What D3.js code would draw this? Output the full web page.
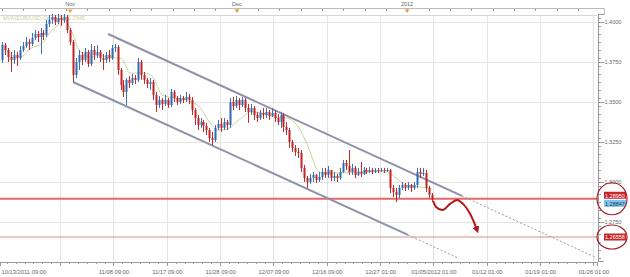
<!DOCTYPE html>
<html>
<head>
<meta charset="utf-8">
<script src="https://cdn.jsdelivr.net/npm/d3@7"></script>
<style>
  body { margin: 0; background: #fff; }
  svg { display: block; font-family: "Liberation Sans", Arial, sans-serif; }
  .grid line { stroke: #e4e4e4; shape-rendering: crispEdges; }
  .grid .domain { display: none; }
  .axis text { fill: #666; }
  .axis line, .axis path { stroke: #999; shape-rendering: crispEdges; }
</style>
</head>
<body>
<div id="chart"></div>
<script>
// EUR/USD candles (open of each bar = previous close)
const open0 = 1.3763;
const closes = [
  1.3856,1.3825,1.3781,1.3763,1.3794,1.3775,1.3825,1.3850,1.3875,1.3863,
  1.3900,1.3925,1.3906,1.3931,1.3919,1.3988,1.4013,1.4031,1.4000,1.4025,
  1.4013,1.4031,1.3950,1.3875,1.3669,1.3750,1.3794,1.3763,1.3813,1.3738,
  1.3825,1.3794,1.3813,1.3775,1.3763,1.3794,1.3775,1.3838,1.3844,1.3700,
  1.3606,1.3563,1.3638,1.3619,1.3650,1.3638,1.3750,1.3669,1.3638,1.3613,
  1.3625,1.3544,1.3481,1.3513,1.3488,1.3513,1.3481,1.3563,1.3525,1.3500,
  1.3525,1.3513,1.3531,1.3513,1.3450,1.3400,1.3356,1.3375,1.3350,1.3325,
  1.3275,1.3263,1.3338,1.3363,1.3338,1.3375,1.3356,1.3500,1.3475,1.3513,
  1.3481,1.3513,1.3463,1.3438,1.3463,1.3419,1.3400,1.3431,1.3419,1.3438,
  1.3413,1.3431,1.3400,1.3375,1.3419,1.3344,1.3325,1.3250,1.3213,1.3188,
  1.3181,1.3088,1.3025,1.3000,1.3025,1.3044,1.3013,1.3031,1.3063,1.3044,
  1.3075,1.3025,1.3038,1.3025,1.3063,1.3119,1.3100,1.3063,1.3088,1.3044,
  1.3063,1.3050,1.3075,1.3063,1.3075,1.3063,1.3075,1.3069,1.3075,1.3069,
  1.3075,1.2963,1.2938,1.2919,1.2963,1.2981,1.2963,1.2981,1.2963,1.2981,
  1.3063,1.3050,1.3056,1.2963,1.2919,1.2888
];
const highs = [
  1.3875,1.3869,1.3838,1.3813,1.3825,1.3813,1.3850,1.3875,1.3906,1.3894,
  1.3931,1.3950,1.3944,1.3963,1.3950,1.4013,1.4044,1.4050,1.4044,1.4050,
  1.4044,1.4050,1.4044,1.3963,1.3888,1.3775,1.3825,1.3813,1.3838,1.3825,
  1.3863,1.3850,1.3856,1.3825,1.3800,1.3813,1.3825,1.3856,1.3863,1.3856,
  1.3713,1.3638,1.3650,1.3663,1.3675,1.3669,1.3775,1.3763,1.3688,1.3650,
  1.3650,1.3638,1.3563,1.3538,1.3525,1.3544,1.3525,1.3581,1.3575,1.3538,
  1.3544,1.3538,1.3563,1.3550,1.3531,1.3463,1.3419,1.3400,1.3388,1.3369,
  1.3338,1.3313,1.3356,1.3388,1.3400,1.3400,1.3388,1.3525,1.3531,1.3538,
  1.3525,1.3531,1.3525,1.3488,1.3488,1.3475,1.3438,1.3450,1.3463,1.3463,
  1.3450,1.3463,1.3450,1.3425,1.3438,1.3431,1.3375,1.3338,1.3263,1.3231,
  1.3213,1.3200,1.3106,1.3038,1.3050,1.3063,1.3050,1.3063,1.3088,1.3088,
  1.3100,1.3075,1.3063,1.3050,1.3088,1.3138,1.3138,1.3200,1.3113,1.3100,
  1.3088,1.3125,1.3094,1.3088,1.3094,1.3088,1.3088,1.3088,1.3088,1.3088,
  1.3088,1.3081,1.2981,1.2963,1.2981,1.3000,1.2994,1.3000,1.2988,1.3000,
  1.3088,1.3088,1.3088,1.3075,1.2975,1.2931
];
const lows = [
  1.3744,1.3794,1.3750,1.3688,1.3738,1.3725,1.3763,1.3813,1.3838,1.3825,
  1.3850,1.3888,1.3875,1.3800,1.3888,1.3906,1.3969,1.3988,1.3981,1.3988,
  1.3975,1.3994,1.3931,1.3856,1.3625,1.3650,1.3700,1.3731,1.3750,1.3719,
  1.3725,1.3763,1.3775,1.3750,1.3700,1.3744,1.3750,1.3763,1.3813,1.3669,
  1.3575,1.3531,1.3481,1.3588,1.3606,1.3613,1.3625,1.3638,1.3613,1.3588,
  1.3575,1.3513,1.3438,1.3463,1.3450,1.3475,1.3463,1.3469,1.3500,1.3481,
  1.3488,1.3494,1.3500,1.3488,1.3419,1.3356,1.3325,1.3338,1.3313,1.3294,
  1.3250,1.3231,1.3250,1.3325,1.3313,1.3325,1.3325,1.3338,1.3450,1.3463,
  1.3450,1.3469,1.3438,1.3369,1.3419,1.3388,1.3375,1.3388,1.3394,1.3400,
  1.3388,1.3406,1.3375,1.3356,1.3338,1.3313,1.3294,1.3213,1.3188,1.3163,
  1.3150,1.3063,1.3000,1.2963,1.2988,1.3000,1.2994,1.3000,1.3013,1.3025,
  1.3025,1.3006,1.3006,1.3000,1.3013,1.3056,1.3075,1.3044,1.3044,1.3025,
  1.3038,1.3031,1.3044,1.3050,1.3056,1.3050,1.3056,1.3056,1.3063,1.3056,
  1.3063,1.2931,1.2906,1.2875,1.2900,1.2950,1.2944,1.2950,1.2938,1.2950,
  1.2963,1.3025,1.3038,1.2938,1.2900,1.2875
];

// moving average line, read at a few bars
const maIdx = [6,9,14,16,19,21,24,26,30,33,36,40,42,43,48,51,52,54,58,62,67,70,73,75,80,84,88,92,96,100,102,104,106,108,114,121,130,133,137,141,145];
const maVals = [1.3763,1.3825,1.3875,1.3931,1.3981,1.4013,1.3919,1.3825,1.3781,1.3794,1.3775,1.3775,1.3719,1.3681,1.3681,1.3656,1.3619,1.3544,1.3525,1.3513,1.3463,1.3375,1.3325,1.3325,1.3388,1.3438,1.3431,1.3406,1.3400,1.3344,1.3275,1.3188,1.3088,1.3056,1.3056,1.3063,1.3063,1.3025,1.2975,1.2969,1.2956];
const maLegend = "MVA(EUR/USD-Close,20) 1.2945";

// axes
const startLabel = "10/13/2011 09:00";
const xTickIdx = [19.6,37.6,55.6,73.6,91.6,109.6,127.6,145.6,163.6,181.6,199.6];
const xTickLabels = ["","11/08 09:00","11/17 09:00","11/28 09:00","12/07 09:00","12/16 09:00","12/27 01:00","01/05/2012 01:00","01/12 01:00","01/19 01:00","01/26 01:00"];
const yTicks = [1.4,1.375,1.35,1.325,1.3,1.275];
const monthIdx = [23,79.3,136.7];
const monthLabels = ["Nov","Dec","2012"];

// annotations
const levels = [1.2895,1.2656];
const levelLabels = ["1.28950","1.26558"];
const lastLabel = "1.28847";
const lastPrice = 1.2885;
const upperChannel = [[35.8,1.3925],[155.2,1.2913],[200.1,1.2531]];
const lowerChannel = [[24,1.3625],[137,1.2669],[153.9,1.2525]];
const forecast = [[145.5,1.2881],[146.5,1.2844],[148.8,1.2825],[151.2,1.2863],[153.6,1.2888],[155.6,1.2863],[158,1.2800],[160.3,1.2700]];

const W = 630, H = 277;
const plot = {left: 0, right: 597, top: 15, bottom: 261};

const bars = closes.map((c, i) => ({
  i, open: i === 0 ? open0 : closes[i - 1], close: c, high: highs[i], low: lows[i]
}));

const x = d3.scaleLinear().domain([-0.675, 200.8]).range([plot.left, plot.right]);
const y = d3.scaleLinear().domain([1.2506, 1.405]).range([plot.bottom, plot.top - 1]);

const svg = d3.select('#chart').append('svg')
  .attr('width', W).attr('height', H);

// Grid
svg.append('g').attr('class', 'grid')
  .attr('transform', `translate(0,${plot.bottom})`)
  .call(d3.axisBottom(x).tickValues(xTickIdx).tickSize(-(plot.bottom - plot.top)).tickFormat(''));
svg.append('g').attr('class', 'grid')
  .attr('transform', `translate(${plot.right},0)`)
  .call(d3.axisLeft(y).tickValues(yTicks).tickSize(plot.right - plot.left).tickFormat(''));

// frame
svg.append('line').attr('x1', 0).attr('x2', plot.right).attr('y1', plot.top + 0.5).attr('y2', plot.top + 0.5)
  .attr('stroke', '#d6d6d6');
svg.append('path').attr('d', `M0,8.5H604.5V${plot.top}`).attr('fill', 'none').attr('stroke', '#bbb');

// top date strip
const topAxis = svg.append('g').attr('class', 'axis')
  .attr('transform', 'translate(0,8.5)')
  .call(d3.axisBottom(x).tickValues(d3.range(0, 200, 7.2)).tickSize(2).tickFormat(''));
topAxis.select('.domain').remove();
topAxis.selectAll('line').attr('stroke', '#aaa');
svg.selectAll('.month').data(monthIdx).enter().append('text')
  .attr('class', 'month')
  .attr('x', d => x(d)).attr('y', 6)
  .attr('text-anchor', 'middle')
  .attr('font-size', 5.5).attr('fill', '#666')
  .text((d, i) => monthLabels[i]);
svg.selectAll('.marker').data(monthIdx).enter().append('path')
  .attr('class', 'marker')
  .attr('d', d => `M${x(d) - 2.5},9.5H${x(d) + 2.5}L${x(d)},13Z`)
  .attr('fill', '#e8a23a');

// MA legend
svg.append('text')
  .attr('x', 3).attr('y', 19.5)
  .attr('font-size', 5.5).attr('fill', '#cdd09a')
  .text(maLegend);

// horizontal levels
svg.selectAll('.level').data(levels).enter().append('line')
  .attr('x1', plot.left).attr('x2', plot.right)
  .attr('y1', d => y(d)).attr('y2', d => y(d))
  .attr('stroke', (d, i) => i === 0 ? '#e26a6a' : '#cf8f8f')
  .attr('stroke-width', (d, i) => i === 0 ? 1.8 : 1.2);

// MA line
const ma = maIdx.map((d, i) => [d, maVals[i]]);
svg.append('path')
  .datum(ma)
  .attr('fill', 'none')
  .attr('stroke', '#c4cf8a')
  .attr('stroke-width', 0.9)
  .attr('d', d3.line().x(d => x(d[0])).y(d => y(d[1])).curve(d3.curveMonotoneX));

// channels
const line = d3.line().x(d => x(d[0])).y(d => y(d[1]));
[upperChannel, lowerChannel].forEach(ch => {
  svg.append('path').datum(ch.slice(0, 2)).attr('d', line)
    .attr('stroke', '#8e91a8').attr('stroke-width', 2).attr('fill', 'none');
  svg.append('path').datum(ch.slice(1)).attr('d', line)
    .attr('stroke', '#999').attr('stroke-width', 1).attr('stroke-dasharray', '2,2').attr('fill', 'none');
});

// candles
const cw = 2;
const g = svg.append('g');
g.selectAll('.wick').data(bars).enter().append('line')
  .attr('x1', d => Math.round(x(d.i)) + 0.5).attr('x2', d => Math.round(x(d.i)) + 0.5)
  .attr('y1', d => y(d.high)).attr('y2', d => y(d.low))
  .attr('stroke', d => d.close >= d.open ? '#3d73b6' : '#c32a2c')
  .attr('stroke-width', 1);
g.selectAll('.body').data(bars).enter().append('rect')
  .attr('x', d => Math.round(x(d.i)) - cw / 2 + 0.5)
  .attr('width', cw)
  .attr('y', d => y(Math.max(d.open, d.close)))
  .attr('height', d => Math.max(1, Math.abs(y(d.open) - y(d.close))))
  .attr('fill', d => d.close >= d.open ? '#2f69b1' : '#c32226');

// forecast arrow
svg.append('defs').append('marker')
  .attr('id', 'arr').attr('viewBox', '0 0 10 10')
  .attr('refX', 5).attr('refY', 5)
  .attr('markerWidth', 3.5).attr('markerHeight', 3.5)
  .attr('orient', 'auto')
  .append('path').attr('d', 'M0,0L10,5L0,10Z').attr('fill', '#b3171b');
svg.append('path')
  .datum(forecast)
  .attr('fill', 'none')
  .attr('stroke', '#b3171b')
  .attr('stroke-width', 2)
  .attr('marker-end', 'url(#arr)')
  .attr('d', d3.line().x(d => x(d[0])).y(d => y(d[1])).curve(d3.curveCatmullRom));

// bottom axis
const bottom = svg.append('g').attr('class', 'axis')
  .attr('transform', `translate(0,${plot.bottom + 0.5})`)
  .call(d3.axisBottom(x).tickValues([-0.675].concat(xTickIdx)).tickSize(4).tickPadding(4)
    .tickFormat((d, i) => i === 0 ? startLabel : xTickLabels[i - 1]));
bottom.selectAll('text').attr('font-size', 5.8);
bottom.select('.tick text').attr('text-anchor', 'start').attr('x', 1);
bottom.select('.domain').attr('stroke', '#aaa');
svg.append('g').attr('class', 'axis')
  .attr('transform', `translate(0,${plot.bottom + 0.5})`)
  .call(d3.axisBottom(x).tickValues(d3.range(1.6, 200, 3)).tickSize(2).tickFormat(''))
  .select('.domain').remove();

// right axis
const right = svg.append('g').attr('class', 'axis')
  .attr('transform', `translate(${plot.right + 0.5},0)`)
  .call(d3.axisRight(y).tickValues(yTicks).tickSize(6).tickPadding(1).tickFormat(d3.format('.4f')));
right.selectAll('text').attr('font-size', 5.5);
right.select('.domain').attr('stroke', '#aaa');
svg.append('g').attr('class', 'axis')
  .attr('transform', `translate(${plot.right + 0.5},0)`)
  .call(d3.axisRight(y).tickValues(d3.range(1.2525, 1.405, 0.005)).tickSize(3).tickFormat(''))
  .select('.domain').remove();

// price boxes on the right
const boxes = [
  {v: levels[0], t: levelLabels[0], fill: '#c8242a', col: '#fff', dy: -3.5},
  {v: lastPrice, t: lastLabel, fill: '#7cc6ef', col: '#1a3550', dy: 3},
  {v: levels[1], t: levelLabels[1], fill: '#c8242a', col: '#fff', dy: 0}
];
const bx = svg.selectAll('.pbox').data(boxes).enter().append('g')
  .attr('transform', d => `translate(604,${y(d.v) + d.dy})`);
bx.append('rect').attr('x', 0).attr('y', -3.5).attr('width', 22).attr('height', 7).attr('fill', d => d.fill);
bx.append('text').attr('x', 1).attr('y', 2.3).attr('font-size', 5.5)
  .attr('fill', d => d.col).text(d => d.t);

// hand-drawn circles around the labels
svg.append('ellipse').attr('cx', 612).attr('cy', y(levels[0])).attr('rx', 15).attr('ry', 16)
  .attr('fill', 'none').attr('stroke', '#a31c22').attr('stroke-width', 1.2);
svg.append('ellipse').attr('cx', 612).attr('cy', y(levels[1])).attr('rx', 15).attr('ry', 12)
  .attr('fill', 'none').attr('stroke', '#a31c22').attr('stroke-width', 1.2);
</script>
</body>
</html>
